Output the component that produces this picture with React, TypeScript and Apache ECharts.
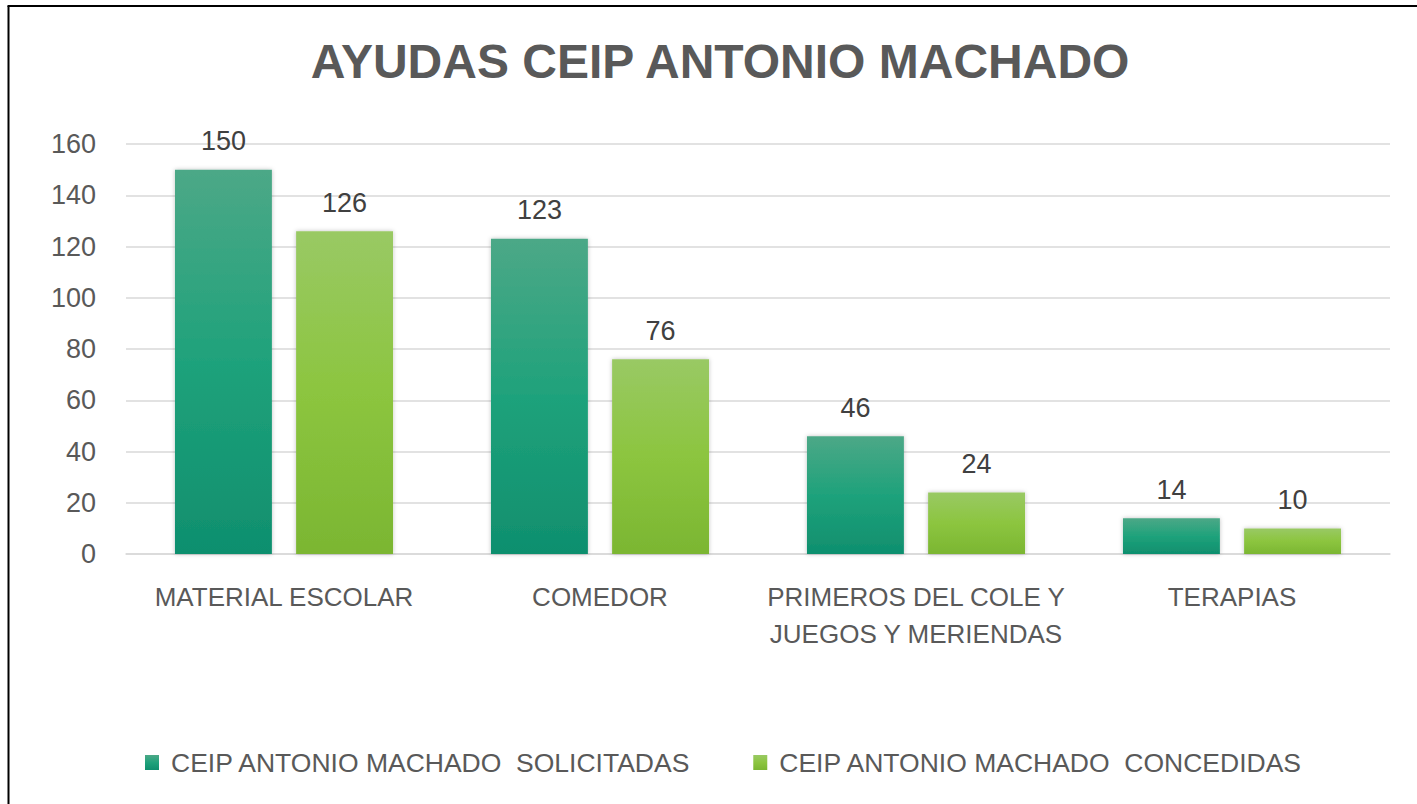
import React, { useEffect, useRef } from "react";
import * as echarts from "echarts";

const categories = [
  "MATERIAL ESCOLAR",
  "COMEDOR",
  "PRIMEROS DEL COLE Y\nJUEGOS Y MERIENDAS",
  "TERAPIAS",
];
const solicitadas = [150, 123, 46, 14];
const concedidas = [126, 76, 24, 10];
const seriesNames = [
  "CEIP ANTONIO MACHADO  SOLICITADAS",
  "CEIP ANTONIO MACHADO  CONCEDIDAS",
];
const titleText = "AYUDAS CEIP ANTONIO MACHADO";

const FONT = "'Liberation Sans', Arial, sans-serif";

function grad(top: string, mid: string, bottom: string) {
  return new echarts.graphic.LinearGradient(0, 0, 0, 1, [
    { offset: 0, color: top },
    { offset: 0.5, color: mid },
    { offset: 1, color: bottom },
  ]);
}

export default function App() {
  const ref = useRef<HTMLDivElement>(null);
  useEffect(() => {
    if (!ref.current) return;
    const chart = echarts.init(ref.current, undefined, { renderer: "svg" });
    const labelStyle = {
      show: true,
      position: "top" as const,
      distance: 15,
      fontFamily: FONT,
      fontSize: 27,
      color: "#404040",
    };
    chart.setOption({
      animation: false,
      backgroundColor: "#ffffff",
      title: {
        text: titleText,
        left: 715,
        top: 32,
        textAlign: "center",
        textStyle: {
          fontFamily: FONT,
          fontWeight: "bold",
          fontSize: 48,
          color: "#595959",
        },
      },
      graphic: [
        {
          type: "line",
          shape: { x1: 8.5, y1: 6, x2: 8.5, y2: 804 },
          style: { stroke: "#000000", lineWidth: 2 },
        },
        {
          type: "line",
          shape: { x1: 7.5, y1: 6, x2: 1417, y2: 6 },
          style: { stroke: "#000000", lineWidth: 2 },
        },
      ],
      legend: {
        left: 145,
        top: 749,
        padding: 0,
        itemWidth: 14,
        itemHeight: 15,
        itemGap: 62,
        icon: "rect",
        textStyle: {
          fontFamily: FONT,
          fontSize: 26.5,
          color: "#595959",
          padding: [0, 0, 0, 7],
        },
        data: seriesNames,
      },
      grid: { left: 126, right: 27, top: 144, bottom: 250 },
      xAxis: {
        type: "category",
        data: categories,
        axisLine: { show: true, lineStyle: { color: "#d9d9d9", width: 1.5 } },
        axisTick: { show: false },
        axisLabel: {
          interval: 0,
          fontFamily: FONT,
          fontSize: 26,
          color: "#595959",
          margin: 24,
          lineHeight: 37,
          align: "center",
        },
      },
      yAxis: {
        type: "value",
        min: 0,
        max: 160,
        interval: 20,
        axisLine: { show: false },
        axisTick: { show: false },
        splitLine: { lineStyle: { color: "#d9d9d9", width: 1.5 } },
        axisLabel: {
          fontFamily: FONT,
          fontSize: 27,
          color: "#595959",
          margin: 30,
        },
      },
      series: [
        {
          name: seriesNames[0],
          type: "bar",
          data: solicitadas,
          barGap: "25%",
          barCategoryGap: "31%",
          itemStyle: {
            color: grad("#4ca887", "#1fa27b", "#0f8f6e"),
            shadowColor: "rgba(0,0,0,0.25)",
            shadowBlur: 4,
          },
          label: labelStyle,
        },
        {
          name: seriesNames[1],
          type: "bar",
          data: concedidas,
          itemStyle: {
            color: grad("#99c964", "#8cc53f", "#7bb632"),
            shadowColor: "rgba(0,0,0,0.25)",
            shadowBlur: 4,
          },
          label: labelStyle,
        },
      ],
    });
    return () => chart.dispose();
  }, []);
  return (
    <div
      ref={ref}
      style={{ position: "absolute", left: 0, top: 0, width: 1417, height: 804 }}
    />
  );
}
